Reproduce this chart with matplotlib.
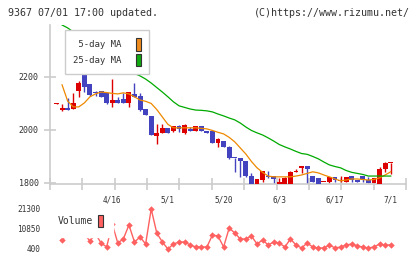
import numpy as np
import matplotlib
matplotlib.use("Agg")
import matplotlib.pyplot as plt
from matplotlib.patches import Patch

# daily candles (oldest -> newest)
opens = [2098, 2075, 2083, 2079, 2147, 2211, 2173, 2143, 2147, 2140,
         2102, 2113, 2117, 2102, 2136, 2128, 2079, 2053, 1977, 1989,
         2008, 1996, 2015, 1989, 2004, 1996, 2015, 1996, 1996, 1951,
         1958, 1936, 1895, 1894, 1883, 1826, 1792, 1811, 1826, 1826,
         1796, 1792, 1796, 1841, 1857, 1864, 1826, 1819, 1803, 1804,
         1823, 1807, 1804, 1826, 1811, 1826, 1811, 1800, 1792, 1853, 1874]
highs = [2100, 2098, 2121, 2140, 2185, 2215, 2173, 2147, 2147, 2140,
         2192, 2125, 2140, 2143, 2177, 2140, 2079, 2053, 2023, 2023,
         2008, 2015, 2019, 2023, 2011, 2015, 2015, 1996, 1996, 1970,
         1958, 1940, 1895, 1894, 1883, 1838, 1815, 1845, 1845, 1826,
         1819, 1823, 1845, 1853, 1864, 1864, 1826, 1819, 1804, 1823,
         1823, 1826, 1823, 1826, 1811, 1826, 1823, 1819, 1860, 1879, 1875]
lows = [2097, 2072, 2075, 2079, 2125, 2143, 2128, 2128, 2125, 2098,
        2087, 2102, 2102, 2087, 2125, 2072, 2057, 1981, 1947, 1989,
        1989, 1992, 1992, 1985, 1996, 1996, 1996, 1989, 1951, 1936,
        1936, 1891, 1842, 1823, 1823, 1792, 1792, 1804, 1819, 1792,
        1792, 1792, 1792, 1841, 1838, 1796, 1804, 1796, 1803, 1800,
        1804, 1804, 1804, 1804, 1804, 1804, 1800, 1800, 1792, 1842, 1834]
closes = [2100, 2083, 2075, 2102, 2177, 2162, 2132, 2140, 2125, 2102,
          2113, 2102, 2102, 2143, 2125, 2075, 2057, 1981, 1989, 2008,
          1989, 2015, 2004, 2019, 1996, 2015, 1996, 1989, 1951, 1966,
          1936, 1894, 1893, 1883, 1826, 1792, 1815, 1845, 1823, 1815,
          1804, 1819, 1842, 1842, 1864, 1853, 1804, 1796, 1804, 1823,
          1811, 1808, 1823, 1811, 1804, 1815, 1800, 1819, 1853, 1875, 1875]

ma5 = [np.nan, 2170, 2109, 2087, 2087, 2102, 2125, 2136, 2143, 2141,
       2138, 2136, 2140, 2136, 2125, 2113, 2108, 2100, 2077, 2049,
       2021, 2008, 2008, 2008, 2008, 2008, 2006, 2004, 1998, 1991,
       1985, 1972, 1955, 1932, 1909, 1881, 1857, 1840, 1826, 1823,
       1823, 1823, 1823, 1826, 1830, 1836, 1842, 1838, 1830, 1823,
       1815, 1808, 1811, 1815, 1815, 1813, 1811, 1813, 1819, 1830, 1842]
ma25 = [np.nan, 2396, 2385, 2370, 2358, 2343, 2328, 2313, 2298, 2283,
        2268, 2256, 2241, 2226, 2213, 2204, 2192, 2177, 2160, 2143,
        2125, 2106, 2091, 2085, 2079, 2075, 2074, 2072, 2068, 2060,
        2053, 2045, 2038, 2026, 2011, 1998, 1989, 1981, 1970, 1958,
        1945, 1936, 1928, 1919, 1911, 1908, 1900, 1891, 1879, 1868,
        1862, 1857, 1847, 1840, 1836, 1832, 1826, 1826, 1826, 1826, 1826]

volume = [np.nan, 5100, 8760, 9280, 10330, 8240, 4580, 8240, 3540, 1450,
          13460, 3540, 5630, 12940, 4060, 6670, 3010, 21300, 8760, 4060,
          400, 3010, 4060, 4060, 2490, 1450, 1450, 1450, 7720, 7190,
          1450, 11370, 8760, 5630, 5630, 7190, 3010, 5100, 2490, 4060,
          3540, 1450, 5630, 2490, 920, 3540, 1450, 920, 920, 2490,
          920, 1450, 2490, 3010, 1970, 1450, 920, 1450, 3010, 2490, 2490]

date_labels = ["4/16", "5/1", "5/20", "6/3", "6/17", "7/1"]
date_idx = [10, 20, 30, 40, 50, 60]
price_ticks = [1800, 2000, 2200]
vol_ticks = [400, 10850, 21300]

UP = "#dd0000"
DOWN = "#4343bf"
GRID = "#cccccc"
TXT = "#333333"
MONO = "DejaVu Sans Mono"

fig = plt.figure(figsize=(4.2, 2.59), dpi=100)
axv = fig.add_axes([50 / 420, 1 - 256 / 259, 356 / 420, 56 / 259])
ax = fig.add_axes([50 / 420, 1 - 184 / 259, 356 / 420, 159 / 259])
axv.patch.set_visible(False)

x = np.arange(len(opens))
o = np.array(opens, float)
c = np.array(closes, float)
colors = [UP if cc >= oo else DOWN for oo, cc in zip(o, c)]
body_lo = np.minimum(o, c)
body_h = np.maximum(np.abs(c - o), 3.5)

ax.vlines(x, lows, highs, colors=colors, linewidth=1.0, zorder=2)
ax.bar(x, body_h, bottom=body_lo, width=0.88, color=colors, linewidth=0, zorder=3)
ax.plot(x, ma5, color="#ee8800", linewidth=0.9, zorder=4)
ax.plot(x, ma25, color="#00aa00", linewidth=0.9, zorder=4)

ax.set_xlim(-1.17, 62.75)
ax.set_ylim(1796, 2396)
for s in ["top", "right"]:
    ax.spines[s].set_visible(False)
for s in ["left", "bottom"]:
    ax.spines[s].set_color(GRID)
    ax.spines[s].set_linewidth(1.2)

ax.set_yticks(price_ticks)
ax.set_yticklabels([str(p) for p in price_ticks], fontsize=6, family=MONO, color=TXT)
ax.tick_params(axis="y", direction="inout", length=8, width=1.2, color=GRID, pad=4)
ax.set_xticks(date_idx)
ax.set_xticklabels(date_labels, fontsize=5.6, family=MONO, color=TXT)
ax.tick_params(axis="x", which="major", length=0, pad=8)
ax.set_xticks(np.linspace(-1.17, 62.75, 12), minor=True)
ax.tick_params(axis="x", which="minor", direction="inout", length=8, width=1.2, color=GRID)

handles = [Patch(facecolor="#f08c1e", edgecolor="#333333", linewidth=0.8),
           Patch(facecolor="#11aa11", edgecolor="#333333", linewidth=0.8)]
leg = ax.legend(handles, [" 5-day MA", "25-day MA"], loc="upper left",
                bbox_to_anchor=(15 / 356, 154 / 159), borderaxespad=0,
                markerfirst=False, handlelength=0.55, handleheight=1.75,
                handletextpad=1.6, labelspacing=0.35, borderpad=0.9,
                prop={"family": MONO, "size": 6.5}, frameon=True, fancybox=False,
                framealpha=1, facecolor="white", edgecolor="#cccccc")
leg.get_frame().set_linewidth(1.0)
for t in leg.get_texts():
    t.set_color(TXT)
leg.set_zorder(10)

# volume panel
axv.plot(x, volume, color="#ff6060", linewidth=1.0, marker="D", markersize=3.3,
         markeredgewidth=0)
axv.set_xlim(-1.17, 62.75)
axv.set_ylim(-3260, 26000)
for s in axv.spines.values():
    s.set_visible(False)
axv.set_xticks([])
axv.set_yticks(vol_ticks)
axv.set_yticklabels([str(v) for v in vol_ticks], fontsize=5.6, family=MONO, color=TXT)
axv.tick_params(axis="y", length=0, pad=7)
vleg = axv.legend([Patch(facecolor="#ff6060", edgecolor="#333333", linewidth=0.8)],
                  ["Volume"], loc="upper left", bbox_to_anchor=(-3 / 356, 52 / 56),
                  borderaxespad=0, markerfirst=False, handlelength=0.5,
                  handleheight=1.5, handletextpad=0.5, borderpad=1.1,
                  prop={"family": MONO, "size": 7}, frameon=True, fancybox=False,
                  framealpha=1, facecolor="white", edgecolor="white")
vleg.get_texts()[0].set_color(TXT)
vleg.set_zorder(10)

fig.text(8 / 420, 1 - 13 / 259, "9367 07/01 17:00 updated.", fontsize=7.2,
         family=MONO, color=TXT, va="center", ha="left")
fig.text(410 / 420, 1 - 13 / 259, "(C)https://www.rizumu.net/", fontsize=7.2,
         family=MONO, color=TXT, va="center", ha="right")

fig.savefig("out.png", dpi=100)
